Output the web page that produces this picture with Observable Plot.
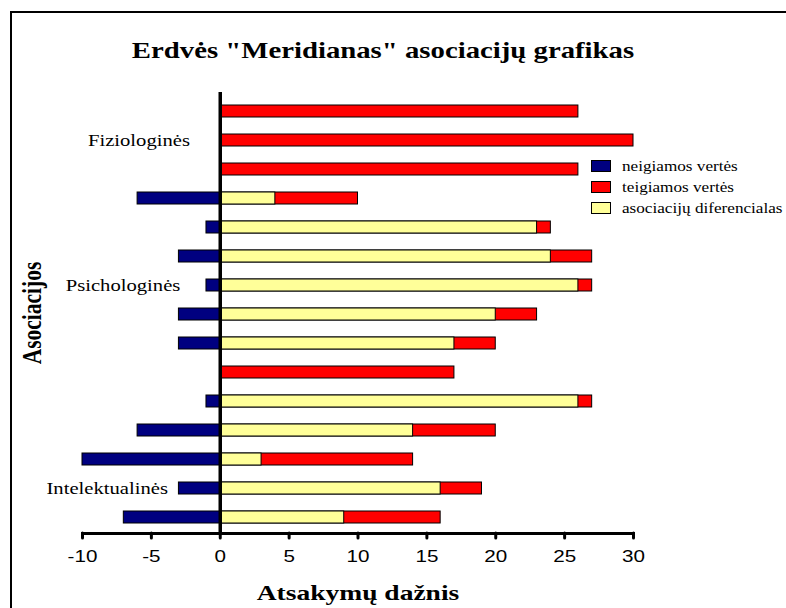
<!DOCTYPE html>
<html>
<head>
<meta charset="utf-8">
<script src="https://cdn.jsdelivr.net/npm/d3@7"></script>
<script src="https://cdn.jsdelivr.net/npm/@observablehq/plot@0.6"></script>
<style>
  html, body { margin: 0; padding: 0; background: #fff; }
  #wrap { position: relative; width: 786px; height: 608px; overflow: hidden; background: #fff; }
  #border { position: absolute; left: 10px; top: 11px; width: 820px; height: 700px; border: 2px solid #000; }
  #chart { position: absolute; left: 0; top: 0; }
  .t { position: absolute; white-space: nowrap; font-family: "Liberation Serif", "Times New Roman", serif; color: #000; }
  #title { left: 383px; top: 39px; font-size: 23px; line-height: 23px; font-weight: bold; transform: translateX(-50%) scaleX(1.25); }
  #xtitle { left: 358px; top: 582px; font-size: 22px; line-height: 22px; font-weight: bold; transform: translateX(-50%) scaleX(1.25); }
  #ytitle { left: 33px; top: 313px; font-size: 21.5px; line-height: 21.5px; font-weight: bold; transform: translate(-50%, -50%) scaleX(1.25) rotate(-90deg); }
  .lg-box { position: absolute; left: 591px; width: 18px; height: 10px; border: 1px solid #000; }
  .lg-text { left: 622px; font-size: 14.3px; line-height: 14px; transform-origin: left center; transform: scaleX(1.2); }
</style>
</head>
<body>
<div id="wrap">
  <div id="border"></div>
  <div id="chart"></div>
  <div class="t" id="title"></div>
  <div class="t" id="xtitle"></div>
  <div class="t" id="ytitle"></div>
  <div id="legend"></div>
</div>
<script>
// ---- data (top row first) ----
const rows = [1, 2, 3, 4, 5, 6, 7, 8, 9, 10, 11, 12, 13, 14, 15];
const negative = [0, 0, 0, -6, -1, -3, -1, -3, -3, 0, -1, -6, -10, -3, -7];
const positive = [26, 30, 26, 10, 24, 27, 27, 23, 20, 17, 27, 20, 14, 19, 16];
const differential = [0, 0, 0, 4, 23, 24, 26, 20, 17, 0, 26, 14, 3, 16, 9];
const groupLabels = ["Fiziologinės", "Psichologinės", "Intelektualinės"];
const groupRows = [2, 7, 14];
const xTicks = [-10, -5, 0, 5, 10, 15, 20, 25, 30];
const seriesNames = ["neigiamos vertės", "teigiamos vertės", "asociacijų diferencialas"];
const seriesColors = ["#000080", "#FF0000", "#FFFF99"];
const titleText = "Erdvės \"Meridianas\" asociacijų grafikas";
const xTitle = "Atsakymų dažnis";
const yTitle = "Asociacijos";

const table = rows.map((r, i) => ({row: r, neg: negative[i], pos: positive[i], dif: differential[i]}));

const plot = Plot.plot({
  width: 786,
  height: 608,
  marginTop: 94,
  marginBottom: 75,
  marginLeft: 82,
  marginRight: 153,
  style: {background: "transparent", fontFamily: "'Liberation Sans', Arial, sans-serif", color: "#000"},
  x: {domain: [-10, 30], label: null},
  y: {domain: rows, paddingInner: 0.59, paddingOuter: 0.295, axis: null},
  marks: [
    Plot.barX(table.filter(d => d.pos), {x: "pos", y: "row", fill: seriesColors[1], stroke: "#000", strokeWidth: 1}),
    Plot.barX(table.filter(d => d.dif), {x: "dif", y: "row", fill: seriesColors[2], stroke: "#000", strokeWidth: 1}),
    Plot.barX(table.filter(d => d.neg), {x: "neg", y: "row", fill: seriesColors[0], stroke: "#000", strokeWidth: 1}),
    Plot.ruleX([0], {stroke: "#000", strokeWidth: 3.5, insetTop: -2}),
    Plot.frame({anchor: "bottom", stroke: "#000", strokeWidth: 3}),
    Plot.axisX(xTicks, {tickSize: 5, tickPadding: 12, strokeWidth: 3, strokeLinecap: "round", fontSize: 16.5, label: null, tickFormat: d => String(d)}),
    Plot.text(groupLabels, {
      x: [-2.2, -2.9, -3.8], y: groupRows, text: d => d,
      textAnchor: "end", fontFamily: "'Liberation Serif', 'Times New Roman', serif", fontSize: 16.5, fill: "#000"
    })
  ]
});
document.getElementById("chart").appendChild(plot);

// horizontally stretch SVG texts like the reference rendering
plot.querySelectorAll("text").forEach(t => {
  const w = t.getComputedTextLength();
  if (w > 0) {
    t.setAttribute("textLength", (w * 1.25).toFixed(2));
    t.setAttribute("lengthAdjust", "spacingAndGlyphs");
  }
});

document.getElementById("title").textContent = titleText;
document.getElementById("xtitle").textContent = xTitle;
document.getElementById("ytitle").textContent = yTitle;

const legend = document.getElementById("legend");
const boxTops = [160, 181, 202];
seriesNames.forEach((name, i) => {
  const b = document.createElement("div");
  b.className = "lg-box";
  b.style.top = boxTops[i] + "px";
  b.style.background = seriesColors[i];
  legend.appendChild(b);
  const t = document.createElement("div");
  t.className = "t lg-text";
  t.style.top = (boxTops[i] - 1) + "px";
  t.textContent = name;
  legend.appendChild(t);
});
</script>
</body>
</html>
